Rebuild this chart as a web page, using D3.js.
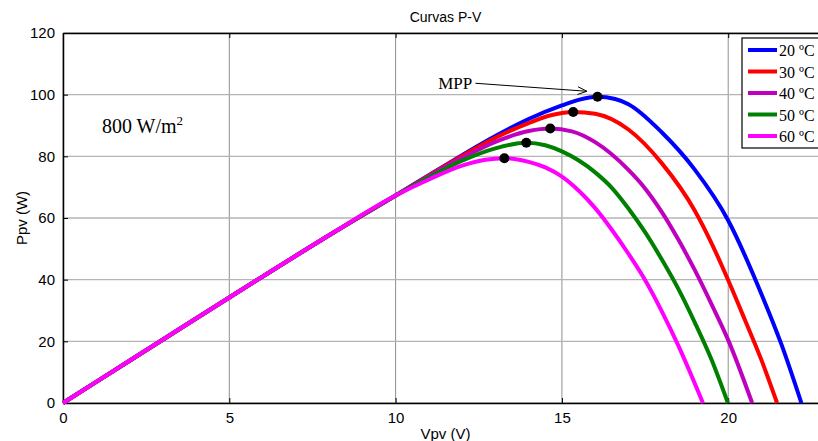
<!DOCTYPE html>
<html>
<head>
<meta charset="utf-8">
<script src="https://cdn.jsdelivr.net/npm/d3@7"></script>
<style>
    body { margin: 0; background: #fff; }
    #pv-chart { width: 818px; height: 441px; }
    .tick text { font-family: "Liberation Sans", Arial, sans-serif; font-size: 15px; fill: #000; }
</style>
</head>
<body>
<div id="pv-chart"></div>
<script>
// series labels + data
const seriesLabels = ["20 ºC", "30 ºC", "40 ºC", "50 ºC", "60 ºC"];

// common linear start (all curves overlap here)
const vStart = [0, 2, 4, 6, 8, 10];
const pStart = [0, 13.7, 27.4, 41.0, 54.4, 67.3];

const v20 = [11, 12, 13, 14, 15, 15.5, 16.07, 16.6, 17, 18, 19, 20, 21, 21.6, 22.2];
const p20 = [73.9, 80.4, 86.6, 92.1, 96.5, 98.3, 99.3, 98.6, 96.9, 87.8, 75.6, 59.2, 35.3, 19.0, 0];

const v30 = [11, 12, 13, 14, 14.7, 15.34, 16, 17, 18, 19, 19.5, 20, 20.5, 21, 21.47];
const p30 = [73.8, 80.1, 86.0, 90.8, 93.4, 94.4, 93.8, 88.7, 77.8, 62.3, 51.8, 39.8, 27.0, 13.9, 0];

const v40 = [11, 12, 13, 14, 14.65, 15.3, 16, 17, 17.5, 18, 18.5, 19, 19.5, 20, 20.72];
const p40 = [73.6, 79.5, 84.7, 88.2, 89.0, 88.1, 84.6, 75.6, 69.6, 62.0, 53.0, 43.0, 32.0, 20.4, 0];

const v50 = [11, 12, 13, 13.93, 14.5, 15, 16, 16.5, 17, 17.5, 18, 18.5, 19, 19.5, 19.99];
const p50 = [73.2, 78.6, 82.6, 84.4, 83.6, 81.6, 74.8, 69.8, 63.1, 55.4, 46.6, 37.0, 26.0, 14.0, 0];

const v60 = [11, 12, 12.7, 13.27, 14, 14.5, 15, 15.5, 16, 16.5, 17, 17.5, 18, 18.5, 19.24];
const p60 = [72.5, 77.0, 78.9, 79.4, 78.2, 76.4, 73.4, 68.9, 63.2, 56.2, 48.4, 39.9, 29.8, 18.6, 0];

// maximum power points
const mppV = [16.07, 15.34, 14.65, 13.93, 13.27];
const mppP = [99.3, 94.4, 89.0, 84.4, 79.4];

const xTicks = [0, 5, 10, 15, 20];
const yTicks = [0, 20, 40, 60, 80, 100, 120];

const seriesColors = ["#0000ff", "#ff0000", "#bf00bf", "#008000", "#ff00ff"];

class PVCurvesVis {

    constructor(parentElement) {
        this.parentElement = parentElement;
        this.initVis();
    }

    initVis() {
        let vis = this;

        vis.margin = {top: 33, right: -10, bottom: 38, left: 63};
        vis.width = 818 - vis.margin.left - vis.margin.right;
        vis.height = 441 - vis.margin.top - vis.margin.bottom;

        vis.root = d3.select("#" + vis.parentElement)
            .append("svg")
            .attr("width", 818)
            .attr("height", 441);

        vis.svg = vis.root.append("g")
            .attr("transform", `translate(${vis.margin.left}, ${vis.margin.top})`);

        vis.xScale = d3.scaleLinear().domain([0, 23]).range([0, vis.width]);
        vis.yScale = d3.scaleLinear().domain([0, 120]).range([vis.height, 0]);

        vis.wrangleData();
    }

    wrangleData() {
        let vis = this;
        let vs = [v20, v30, v40, v50, v60];
        let ps = [p20, p30, p40, p50, p60];

        vis.series = seriesLabels.map((label, i) => ({
            label: label,
            color: seriesColors[i],
            points: vStart.map((v, j) => ({v: v, p: pStart[j]}))
                .concat(vs[i].map((v, j) => ({v: v, p: ps[i][j]}))),
            mpp: {v: mppV[i], p: mppP[i]}
        }));

        vis.updateVis();
    }

    updateVis() {
        this.createGrid();
        this.createAxis();
        this.createLines();
        this.createLabels();
        this.createLegend();
    }

    createGrid() {
        let vis = this;

        vis.svg.append("g")
            .selectAll("line")
            .data(xTicks)
            .join("line")
            .attr("x1", d => vis.xScale(d))
            .attr("x2", d => vis.xScale(d))
            .attr("y1", 0)
            .attr("y2", vis.height)
            .attr("stroke", "#8f8f8f")
            .attr("stroke-width", 1);

        vis.svg.append("g")
            .selectAll("line")
            .data(yTicks)
            .join("line")
            .attr("x1", 0)
            .attr("x2", vis.width)
            .attr("y1", d => vis.yScale(d))
            .attr("y2", d => vis.yScale(d))
            .attr("stroke", "#b4b4b4")
            .attr("stroke-width", 1.4);
    }

    createAxis() {
        let vis = this;

        // MATLAB style: ticks pointing inward
        let xAxis = d3.axisBottom(vis.xScale).tickValues(xTicks).tickSizeInner(-5).tickSizeOuter(0).tickPadding(9);
        let yAxis = d3.axisLeft(vis.yScale).tickValues(yTicks).tickSizeInner(-5).tickSizeOuter(0).tickPadding(8);
        let xTop = d3.axisTop(vis.xScale).tickValues(xTicks).tickSizeInner(-5).tickSizeOuter(0).tickFormat("");

        vis.svg.append("g")
            .attr("transform", `translate(0,${vis.height})`)
            .call(xAxis);
        vis.svg.append("g").call(yAxis);
        vis.svg.append("g").call(xTop);

        vis.svg.selectAll(".domain").attr("stroke", "#000").attr("stroke-width", 1.5);
        vis.svg.selectAll(".tick line").attr("stroke", "#000");

        vis.root.append("text")
            .attr("text-anchor", "middle")
            .attr("x", vis.margin.left + vis.width / 2)
            .attr("y", 439)
            .style("font-family", "Liberation Sans, Arial, sans-serif")
            .style("font-size", "15px")
            .text("Vpv (V)");

        vis.root.append("text")
            .attr("text-anchor", "middle")
            .attr("transform", "rotate(-90)")
            .attr("x", -(vis.margin.top + vis.height / 2))
            .attr("y", 27)
            .style("font-family", "Liberation Sans, Arial, sans-serif")
            .style("font-size", "15px")
            .text("Ppv (W)");

        vis.root.append("text")
            .attr("text-anchor", "middle")
            .attr("x", vis.margin.left + vis.width / 2)
            .attr("y", 22)
            .style("font-family", "Liberation Sans, Arial, sans-serif")
            .style("font-size", "14px")
            .text("Curvas P-V");
    }

    createLines() {
        let vis = this;

        const line = d3.line()
            .x(d => vis.xScale(d.v))
            .y(d => vis.yScale(d.p))
            .curve(d3.curveMonotoneX);

        vis.svg.append("g")
            .selectAll("path")
            .data(vis.series)
            .join("path")
            .attr("fill", "none")
            .attr("stroke", d => d.color)
            .attr("stroke-width", 4)
            .attr("d", d => line(d.points));

        vis.svg.append("g")
            .selectAll("circle")
            .data(vis.series)
            .join("circle")
            .attr("cx", d => vis.xScale(d.mpp.v))
            .attr("cy", d => vis.yScale(d.mpp.p))
            .attr("r", 5)
            .attr("fill", "#000");
    }

    createLabels() {
        let vis = this;

        vis.svg.append("text")
            .attr("x", vis.xScale(1.17))
            .attr("y", vis.yScale(87.5))
            .style("font-family", "Liberation Serif, Times New Roman, serif")
            .style("font-size", "20px")
            .text("800 W/m")
            .append("tspan")
            .attr("dy", -8)
            .style("font-size", "13px")
            .text("2");

        vis.svg.append("text")
            .attr("x", vis.xScale(11.28))
            .attr("y", vis.yScale(101.8))
            .style("font-family", "Liberation Serif, Times New Roman, serif")
            .style("font-size", "17px")
            .text("MPP");

        // arrow pointing to the 20 ºC MPP
        let x1 = vis.xScale(12.4), y1 = vis.yScale(103.7);
        let x2 = vis.xScale(15.75), y2 = vis.yScale(101.1);
        let ang = Math.atan2(y2 - y1, x2 - x1);
        vis.svg.append("line")
            .attr("x1", x1).attr("y1", y1)
            .attr("x2", x2).attr("y2", y2)
            .attr("stroke", "#000").attr("stroke-width", 1);
        [0.4, -0.4].forEach(da => {
            vis.svg.append("line")
                .attr("x1", x2).attr("y1", y2)
                .attr("x2", x2 - 10 * Math.cos(ang + da))
                .attr("y2", y2 - 10 * Math.sin(ang + da))
                .attr("stroke", "#000").attr("stroke-width", 1);
        });
    }

    createLegend() {
        let vis = this;

        let legend = vis.root.append("g")
            .attr("transform", "translate(742, 38)");

        legend.append("rect")
            .attr("width", 90)
            .attr("height", 110)
            .attr("fill", "#fff")
            .attr("stroke", "#000")
            .attr("stroke-width", 1.2);

        let rows = legend.selectAll("g.row")
            .data(vis.series)
            .join("g")
            .attr("class", "row")
            .attr("transform", (d, i) => `translate(0, ${12 + i * 21.5})`);

        rows.append("line")
            .attr("x1", 6).attr("x2", 35)
            .attr("stroke", d => d.color)
            .attr("stroke-width", 4);

        rows.append("text")
            .attr("x", 37)
            .attr("y", 6)
            .style("font-family", "Liberation Serif, Times New Roman, serif")
            .style("font-size", "16px")
            .text(d => d.label);
    }
}

new PVCurvesVis("pv-chart");
</script>
</body>
</html>
